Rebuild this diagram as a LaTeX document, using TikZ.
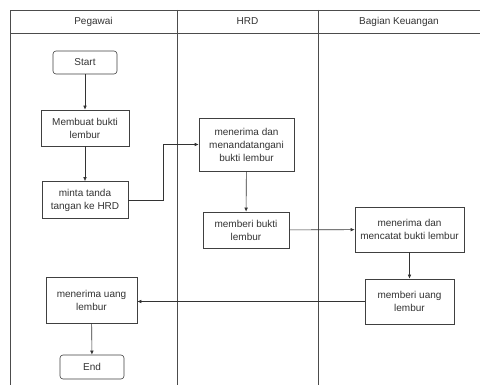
\documentclass[tikz,border=0pt]{standalone}
\usepackage{fontspec}
\setmainfont{Liberation Sans}
\usetikzlibrary{arrows.meta}
\begin{document}
\begin{tikzpicture}[x=1pt,y=-1pt,
    line width=0.6pt,
    lane/.style={draw=black!70},
    proc/.style={draw=black!75, fill=white, align=center, inner sep=1pt,
      font=\fontsize{10}{13}\selectfont, text=black!80},
    term/.style={proc, rounded corners=3pt},
    flow/.style={draw=black!80, -{Latex[length=4pt,width=3.5pt]}}]
\useasboundingbox (0,0) rectangle (480,385);
% swimlanes
\draw[lane] (480,10) -- (10,10) -- (10,385);
\draw[lane] (10,33) -- (480,33);
\draw[lane] (177,10) -- (177,385);
\draw[lane] (318,10) -- (318,385);
\node[proc, draw=none] (hPeg) at (93.5,21.5) {Pegawai};
\node[proc, draw=none] (hHrd) at (247.5,21.5) {HRD};
\node[proc, draw=none] (hKeu) at (399,21.5) {Bagian Keuangan};
% steps
\node[term, minimum width=64, minimum height=23] (start) at (85,62.5) {Start};
\node[proc, minimum width=88, minimum height=36] (buat) at (85,128) {Membuat bukti\\lembur};
\node[proc, minimum width=86, minimum height=37] (minta) at (85,200) {minta tanda\\tangan ke HRD};
\node[proc, minimum width=95, minimum height=53] (ttd) at (246.5,144.5) {menerima dan\\menandatangani\\bukti lembur};
\node[proc, minimum width=86, minimum height=36] (beri) at (246,230) {memberi bukti\\lembur};
\node[proc, minimum width=109, minimum height=45] (catat) at (409.5,229.5) {menerima dan\\mencatat bukti lembur};
\node[proc, minimum width=89, minimum height=45] (uang) at (409.5,301.5) {memberi uang\\lembur};
\node[proc, minimum width=91, minimum height=46] (terima) at (91.5,300) {menerima uang\\lembur};
\node[term, minimum width=64, minimum height=24] (end) at (92,367) {End};
% connectors
\draw[flow] (start) -- (buat);
\draw[flow] (buat) -- (minta);
\draw[flow] (minta.east) -- ++(35,0) |- (ttd.west);
\draw[flow] (ttd) -- (beri);
\draw[flow] (beri) -- (catat);
\draw[flow] (catat) -- (uang);
\draw[flow] (uang.west) -- (terima.east |- uang.west);
\draw[flow] (terima) -- (end);
\end{tikzpicture}
\end{document}
